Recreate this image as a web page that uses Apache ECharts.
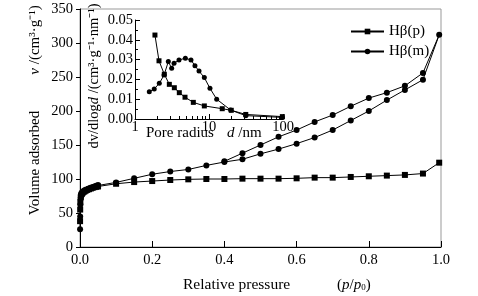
<!DOCTYPE html>
<html>
<head>
<meta charset="utf-8">
<script src="https://cdn.jsdelivr.net/npm/echarts@6/dist/echarts.min.js"></script>
<style>html,body{margin:0;padding:0;background:#fff}#c{width:478px;height:296px}</style>
</head>
<body>
<div id="c"></div>
<script>
// Main isotherm: Hβ(p)
const pressureP = [0.0002,0.0005,0.001,0.002,0.003,0.005,0.007,0.01,0.013,0.016,0.02,0.025,0.03,0.035,0.04,0.045,0.05,0.1,0.15,0.2,0.25,0.3,0.35,0.4,0.45,0.5,0.55,0.6,0.65,0.7,0.75,0.8,0.85,0.9,0.95,0.995];
const volumeP   = [38,55,66,73,76,78,79.5,81,82,83,84,85,86,87,88,88.5,89,93,95.5,97,98.5,99.5,100,100,100.5,100.5,100.5,101,102,102,103,104,105,106,108,124];
// Main isotherm: Hβ(m) adsorption then desorption branch
const pressureMAds = [0.0002,0.0005,0.001,0.002,0.003,0.005,0.007,0.01,0.013,0.016,0.02,0.025,0.03,0.035,0.04,0.045,0.05,0.1,0.15,0.2,0.25,0.3,0.35,0.4,0.45,0.5,0.55,0.6,0.65,0.7,0.75,0.8,0.85,0.9,0.95,0.995];
const volumeMAds   = [26,45,62,72,76,79,80.5,82,83,84,85,86,87,88,89,90,91,95,101,107,111,114,120,125,129,137,144,152,161,172,186,200,216,231,246,312];
const pressureMDes = [0.95,0.9,0.85,0.8,0.75,0.7,0.65,0.6,0.55,0.5,0.45,0.4];
const volumeMDes   = [256,237,227,219,207,194,184,172,162,150,138,126];
// Inset pore size distribution
const poreP = [1.86,2.11,2.49,2.91,3.4,3.97,4.74,6.14,8.65,15.1,20,31.4,98];
const dvP   = [0.0424,0.0294,0.0226,0.0175,0.0158,0.0133,0.011,0.0084,0.0066,0.0052,0.0044,0.0023,0.0012];
const poreM = [1.56,1.82,2.13,2.47,2.82,3.13,3.37,3.93,4.79,5.71,6.46,7.33,8.65,10.3,12.7,19.6,31.4,98];
const dvM   = [0.0138,0.0152,0.018,0.0222,0.029,0.0256,0.0281,0.0298,0.0307,0.0298,0.0269,0.0242,0.0209,0.0155,0.01,0.0045,0.0017,0.0008];
const seriesNames = ['Hβ(p)','Hβ(m)'];
const insetMajor = [1,10,100];
const insetMinor = [2,3,4,5,6,7,8,9,20,30,40,50,60,70,80,90];

const zip = (a,b) => a.map((v,i)=>[v,b[i]]);
const F = 'Liberation Serif, Times New Roman, serif';
const txt = {fontFamily:F,fontSize:14.5,color:'#000'};
const rn = {fontFamily:F,fontSize:15,fill:'#000'};
const ri = {fontFamily:F,fontSize:15,fontStyle:'italic',fill:'#000'};

const chart = echarts.init(document.getElementById('c'));
chart.setOption({
  animation:false,
  backgroundColor:'#fff',
  grid:[
    {left:80,top:9,width:361,height:238,show:true,borderColor:'#999',borderWidth:1,backgroundColor:'transparent'},
    {left:135,top:20,width:148,height:99,show:false}
  ],
  xAxis:[
    {gridIndex:0,type:'value',min:0,max:1,interval:0.2,
     axisLine:{lineStyle:{color:'#000',width:1}},
     axisTick:{inside:true,length:6,lineStyle:{color:'#000'}},
     axisLabel:Object.assign({margin:6,formatter:v=>v.toFixed(1)},txt),
     splitLine:{show:false}},
    {gridIndex:1,type:'log',logBase:10,min:1,max:100,position:'bottom',
     axisLine:{onZero:false,lineStyle:{color:'#000',width:1}},
     axisTick:{inside:true,length:5,customValues:insetMajor,lineStyle:{color:'#000'}},
     axisLabel:Object.assign({margin:1,customValues:insetMajor,formatter:v=>String(Math.round(v))},txt),
     splitLine:{show:false}},
    {gridIndex:1,type:'log',logBase:10,min:1,max:100,position:'bottom',
     axisLine:{show:false,onZero:false},
     axisTick:{inside:true,length:3,customValues:insetMinor,lineStyle:{color:'#000'}},
     axisLabel:{show:false},
     splitLine:{show:false}}
  ],
  yAxis:[
    {gridIndex:0,type:'value',min:0,max:350,interval:50,
     axisLine:{show:true,lineStyle:{color:'#000',width:1}},
     axisTick:{show:true,inside:false,length:4,lineStyle:{color:'#000'}},
     axisLabel:Object.assign({margin:7},txt),
     splitLine:{show:false}},
    {gridIndex:1,type:'value',min:0,max:0.05,interval:0.01,
     axisLine:{show:true,onZero:false,lineStyle:{color:'#000',width:1}},
     axisTick:{show:true,inside:true,length:5,lineStyle:{color:'#000'}},
     minorTick:{show:true,splitNumber:2,length:3,lineStyle:{color:'#000'}},
     axisLabel:Object.assign({margin:2,formatter:v=>v.toFixed(2)},txt),
     splitLine:{show:false}}
  ],
  legend:{
    orient:'vertical',left:345,top:19,itemWidth:33,itemHeight:7,itemGap:5,
    textStyle:{fontFamily:F,fontSize:15,color:'#000'},
    data:seriesNames
  },
  series:[
    {name:seriesNames[0],type:'line',xAxisIndex:0,yAxisIndex:0,data:zip(pressureP,volumeP),
     symbol:'rect',symbolSize:6,lineStyle:{color:'#000',width:1},itemStyle:{color:'#000'}},
    {name:seriesNames[1],type:'line',xAxisIndex:0,yAxisIndex:0,
     data:zip(pressureMAds,volumeMAds).concat(zip(pressureMDes,volumeMDes)),
     symbol:'circle',symbolSize:6,lineStyle:{color:'#000',width:1},itemStyle:{color:'#000'}},
    {name:'inset-p',type:'line',xAxisIndex:1,yAxisIndex:1,data:zip(poreP,dvP),
     symbol:'rect',symbolSize:5,lineStyle:{color:'#000',width:1},itemStyle:{color:'#000'}},
    {name:'inset-m',type:'line',xAxisIndex:1,yAxisIndex:1,data:zip(poreM,dvM),
     symbol:'circle',symbolSize:5,lineStyle:{color:'#000',width:1},itemStyle:{color:'#000'}}
  ],
  graphic:[
    {type:'text',x:35,y:163,rotation:Math.PI/2,
     style:{text:'Volume adsorbed',align:'center',verticalAlign:'middle',font:'15px '+F,fill:'#000'}},
    {type:'text',x:35,y:40,rotation:Math.PI/2,
     style:{text:'{i|v}{n| /(cm³·g⁻¹)}',align:'center',verticalAlign:'middle',rich:{n:rn,i:ri}}},
    {type:'text',x:94,y:76,rotation:Math.PI/2,
     style:{text:'{n|dv/dlog}{i|d}{n| /(cm³·g⁻¹·nm⁻¹)}',align:'center',verticalAlign:'middle',
       rich:{n:{fontFamily:F,fontSize:14.5,fill:'#000'},i:{fontFamily:F,fontSize:14.5,fontStyle:'italic',fill:'#000'}}}},
    {type:'text',x:183,y:285,
     style:{text:'Relative pressure',align:'left',verticalAlign:'middle',font:'15.5px '+F,fill:'#000'}},
    {type:'text',x:337,y:285,
     style:{text:'{n|(}{i|p}{n|/}{i|p}{s|0}{n|)}',align:'left',verticalAlign:'middle',
       rich:{n:rn,i:ri,s:{fontFamily:F,fontSize:9,fill:'#000',padding:[6,0,0,0]}}}},
    {type:'text',x:146,y:133,
     style:{text:'Pore radius',align:'left',verticalAlign:'middle',font:'15px '+F,fill:'#000'}},
    {type:'text',x:227,y:133,
     style:{text:'{i|d}{n| /nm}',align:'left',verticalAlign:'middle',rich:{n:rn,i:ri}}}
  ]
});
</script>
</body>
</html>
